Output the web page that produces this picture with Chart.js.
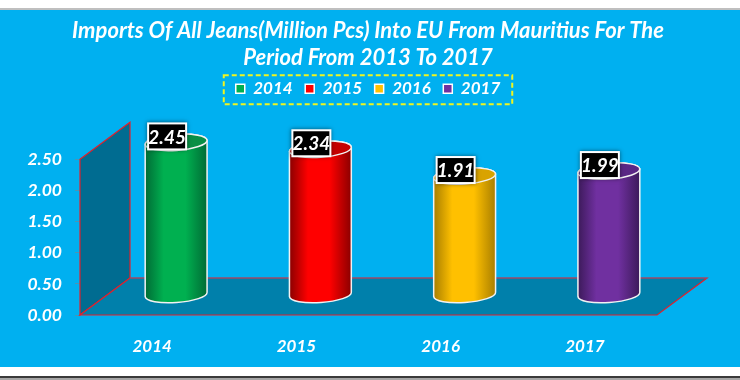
<!DOCTYPE html>
<html>
<head>
<meta charset="utf-8">
<title>Imports of jeans</title>
<script src="https://cdn.jsdelivr.net/npm/chart.js@4"></script>
<style>
  html, body { margin: 0; padding: 0; background: #fff; }
  canvas { display: block; }
</style>
</head>
<body>
<canvas id="jeans-chart" width="740" height="380"></canvas>
<script>
const years = ['2014', '2015', '2016', '2017'];
const imports = [2.45, 2.34, 1.91, 1.99];
const barColors = ['#00B050', '#FF0000', '#FFC000', '#7030A0'];
const edgeColors = ['#006B35', '#8A0000', '#A87E00', '#3C1A5A'];
const lidColors = ['#0A8F45', '#C40000', '#D9A300', '#5A2785'];
const titleLines = [
    'Imports Of All Jeans(Million Pcs) Into EU From Mauritius For The',
    'Period From 2013 To 2017'
];

const FONT = 'Lato, Carlito, sans-serif';
const DEPTH_X = 50, DEPTH_Y = 37;   // how far the back plane sits from the front one
const BAR_SHIFT_X = 24, BAR_SHIFT_Y = 20;

// blue panel with the white strips above and below it
const panelPlugin = {
    id: 'panel',
    beforeDraw(chart) {
        const ctx = chart.ctx;
        ctx.save();
        ctx.fillStyle = '#ffffff';
        ctx.fillRect(0, 0, chart.width, chart.height);
        ctx.fillStyle = '#BFBFBF';
        ctx.fillRect(0, 8, chart.width, 2);
        ctx.fillStyle = '#00B0F0';
        ctx.fillRect(0, 10, chart.width, 357);
        ctx.fillStyle = '#3A3A3A';
        ctx.fillRect(0, 376, chart.width, 2);
        ctx.fillStyle = '#A6A6A6';
        ctx.fillRect(0, 378, chart.width, 2);
        ctx.restore();
    }
};

// the gap under the legend, so the plot starts where the reference does
const legendGapPlugin = {
    id: 'legendGap',
    beforeLayout(chart) {
        const legend = chart.legend;
        if (legend.gapAdded) return;
        legend.gapAdded = true;
        const fit = legend.fit;
        legend.fit = function () {
            fit.call(this);
            this.height += 52;
        };
    }
};

const wallsPlugin = {
    id: 'walls',
    beforeDatasetsDraw(chart) {
        const ctx = chart.ctx;
        const x = chart.scales.x, y = chart.scales.y;
        const left = x.left, right = x.right;
        const bottom = y.getPixelForValue(0), top = y.getPixelForValue(2.5);

        ctx.save();
        ctx.lineWidth = 1.2;
        ctx.strokeStyle = '#E0202C';

        // side wall
        ctx.fillStyle = '#006C91';
        ctx.beginPath();
        ctx.moveTo(left, top);
        ctx.lineTo(left + DEPTH_X, top - DEPTH_Y);
        ctx.lineTo(left + DEPTH_X, bottom - DEPTH_Y);
        ctx.lineTo(left, bottom);
        ctx.closePath();
        ctx.fill();
        ctx.stroke();

        // floor
        ctx.fillStyle = '#0080AB';
        ctx.beginPath();
        ctx.moveTo(left, bottom);
        ctx.lineTo(left + DEPTH_X, bottom - DEPTH_Y);
        ctx.lineTo(right + DEPTH_X, bottom - DEPTH_Y);
        ctx.lineTo(right, bottom);
        ctx.closePath();
        ctx.fill();
        ctx.stroke();

        ctx.strokeStyle = '#7A5F85';
        ctx.beginPath();
        ctx.moveTo(left + DEPTH_X, bottom - DEPTH_Y);
        ctx.lineTo(right + DEPTH_X, bottom - DEPTH_Y);
        ctx.stroke();
        ctx.restore();
    }
};

// the bars are drawn as cylinders from the positions the bar elements got
const cylinderPlugin = {
    id: 'cylinders',
    afterDatasetsDraw(chart) {
        const ctx = chart.ctx;
        const tilt = -0.07, ry = 8;

        chart.getDatasetMeta(0).data.forEach((bar, i) => {
            const cx = bar.x + BAR_SHIFT_X;
            const rx = bar.width / 2;
            const topY = bar.y - BAR_SHIFT_Y;
            const baseY = bar.base - BAR_SHIFT_Y;

            const grad = ctx.createLinearGradient(cx - rx, 0, cx + rx, 0);
            grad.addColorStop(0, edgeColors[i]);
            grad.addColorStop(0.3, barColors[i]);
            grad.addColorStop(0.65, barColors[i]);
            grad.addColorStop(1, edgeColors[i]);

            ctx.save();
            ctx.strokeStyle = '#F2F2F2';
            ctx.lineWidth = 1.5;
            ctx.fillStyle = grad;
            ctx.beginPath();
            ctx.ellipse(cx, baseY, rx, ry, tilt, 0, Math.PI);
            ctx.ellipse(cx, topY, rx, ry, tilt, Math.PI, Math.PI * 2);
            ctx.closePath();
            ctx.fill();
            ctx.stroke();

            ctx.fillStyle = lidColors[i];
            ctx.beginPath();
            ctx.ellipse(cx, topY, rx, ry, tilt, 0, Math.PI * 2);
            ctx.fill();
            ctx.stroke();
            ctx.restore();

            // value label
            const lx = bar.x + 15, ly = bar.y - 26;
            ctx.save();
            ctx.shadowColor = 'rgba(0,0,0,0.5)';
            ctx.shadowBlur = 4;
            ctx.fillStyle = '#ffffff';
            ctx.fillRect(lx - 20, ly - 14, 40, 28);
            ctx.shadowColor = 'transparent';
            ctx.fillStyle = '#000000';
            ctx.fillRect(lx - 18, ly - 12, 36, 24);
            ctx.fillStyle = '#ffffff';
            ctx.font = 'italic bold 19px ' + FONT;
            ctx.textAlign = 'center';
            ctx.textBaseline = 'middle';
            ctx.fillText(imports[i].toFixed(2), lx, ly + 1);
            ctx.restore();
        });
    }
};

const legendFramePlugin = {
    id: 'legendFrame',
    afterDraw(chart) {
        const boxes = chart.legend.legendHitBoxes;
        const first = boxes[0], last = boxes[boxes.length - 1];
        const ctx = chart.ctx;
        ctx.save();
        ctx.strokeStyle = '#F0F51E';
        ctx.lineWidth = 2;
        ctx.setLineDash([5, 3]);
        ctx.strokeRect(first.left - 12, first.top - 5, last.left + last.width - first.left + 24, 29);
        ctx.restore();
    }
};

new Chart(document.getElementById('jeans-chart'), {
    type: 'bar',
    data: {
        labels: years,
        datasets: [{
            label: 'Imports',
            data: imports,
            backgroundColor: 'rgba(0,0,0,0)',
            borderWidth: 0,
            categoryPercentage: 1,
            barPercentage: 0.43
        }]
    },
    options: {
        responsive: false,
        animation: false,
        layout: { padding: { right: 4 } },
        plugins: {
            tooltip: { enabled: false },
            title: {
                display: true,
                text: titleLines,
                color: '#ffffff',
                font: { family: FONT, size: 22, weight: 'bold', style: 'italic', lineHeight: 1.2 },
                padding: { top: 18, bottom: -3 }
            },
            legend: {
                display: true,
                position: 'top',
                onClick: null,
                labels: {
                    color: '#ffffff',
                    boxWidth: 9,
                    boxHeight: 9,
                    padding: 12.5,
                    font: { family: FONT, size: 17, weight: 'bold', style: 'italic' },
                    generateLabels: () => years.map((year, i) => ({
                        text: year,
                        fillStyle: barColors[i],
                        strokeStyle: '#ffffff',
                        lineWidth: 1.5,
                        fontColor: '#ffffff',
                        datasetIndex: 0,
                        index: i
                    }))
                }
            }
        },
        scales: {
            x: {
                grid: { display: false },
                border: { display: false },
                ticks: {
                    color: '#ffffff',
                    padding: 13,
                    maxRotation: 0,
                    font: { family: FONT, size: 17, weight: 'bold', style: 'italic' }
                },
                afterFit(scale) {
                    scale.height = 65;
                    scale.paddingRight = 83;
                }
            },
            y: {
                min: 0,
                max: 2.5,
                border: { display: false },
                grid: { drawOnChartArea: false, tickLength: 5, color: '#4A94B5' },
                ticks: {
                    stepSize: 0.5,
                    color: '#ffffff',
                    padding: 13,
                    font: { family: FONT, size: 17.5, weight: 'bold', style: 'italic' },
                    callback: value => value.toFixed(2)
                },
                afterFit(scale) {
                    scale.width = 80;
                }
            }
        }
    },
    plugins: [panelPlugin, legendGapPlugin, wallsPlugin, cylinderPlugin, legendFramePlugin]
});
</script>
</body>
</html>
